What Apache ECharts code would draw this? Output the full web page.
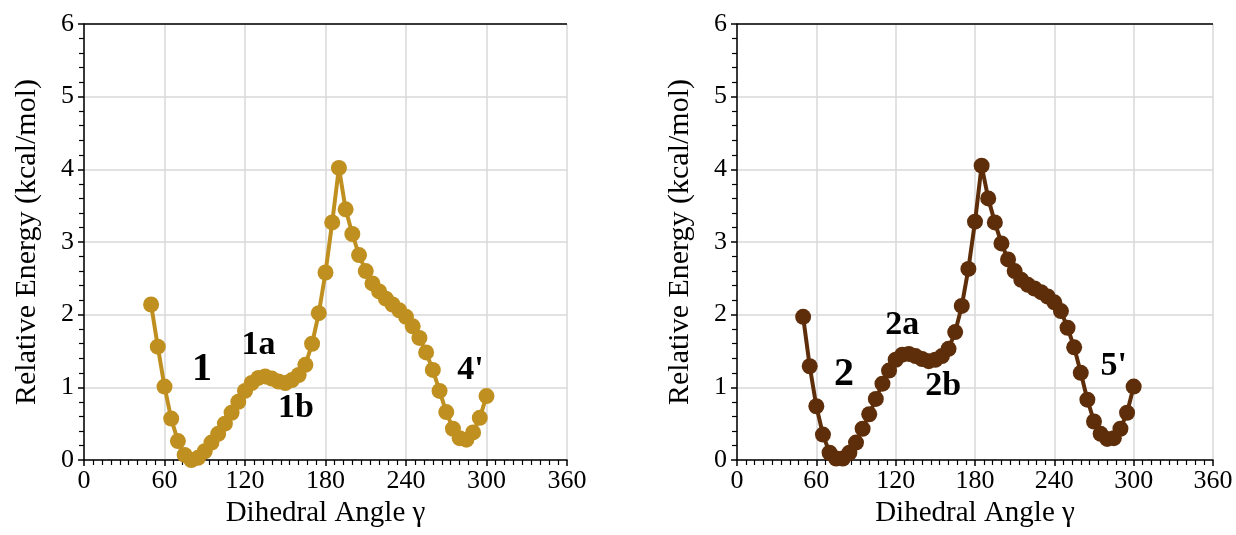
<!DOCTYPE html>
<html>
<head>
<meta charset="utf-8">
<script src="https://cdn.jsdelivr.net/npm/echarts@6/dist/echarts.min.js"></script>
<style>
  html, body { margin: 0; padding: 0; background: #fff; }
  #chart { width: 1236px; height: 535px; }
</style>
</head>
<body>
<div id="chart"></div>
<script>
// dihedral angle scan, degrees
const angles = [50, 55, 60, 65, 70, 75, 80, 85, 90, 95, 100, 105, 110, 115, 120, 125, 130, 135, 140, 145,
  150, 155, 160, 165, 170, 175, 180, 185, 190, 195, 200, 205, 210, 215, 220, 225, 230, 235, 240, 245,
  250, 255, 260, 265, 270, 275, 280, 285, 290, 295, 300];

// relative energy (kcal/mol), left panel
const energyLeft = [2.14, 1.56, 1.01, 0.57, 0.26, 0.07, 0.0, 0.03, 0.12, 0.24, 0.36, 0.5, 0.65, 0.8, 0.95, 1.06,
  1.13, 1.15, 1.12, 1.08, 1.06, 1.1, 1.17, 1.31, 1.6, 2.02, 2.58, 3.27, 4.02, 3.45, 3.11, 2.82, 2.6, 2.43,
  2.32, 2.22, 2.14, 2.06, 1.97, 1.84, 1.68, 1.48, 1.24, 0.95, 0.66, 0.43, 0.3, 0.28, 0.38, 0.58, 0.88];

// relative energy (kcal/mol), right panel
const energyRight = [1.97, 1.29, 0.74, 0.35, 0.1, 0.02, 0.02, 0.1, 0.24, 0.43, 0.63, 0.84, 1.05, 1.23, 1.38, 1.45,
  1.46, 1.43, 1.39, 1.36, 1.38, 1.43, 1.53, 1.76, 2.12, 2.63, 3.28, 4.05, 3.6, 3.27, 2.98, 2.76, 2.6, 2.48,
  2.41, 2.36, 2.31, 2.25, 2.17, 2.05, 1.82, 1.55, 1.2, 0.83, 0.53, 0.36, 0.29, 0.3, 0.43, 0.65, 1.01];

// conformer labels: [angle, energy, text, fontSize]
const labelsLeft = [[88, 1.24, '1', 40], [130, 1.58, '1a', 34], [158, 0.71, '1b', 34], [288, 1.23, "4'", 34]];
const labelsRight = [[81, 1.18, '2', 40], [125, 1.86, '2a', 34], [156, 1.01, '2b', 34], [285, 1.29, "5'", 34]];

const xTicks = [0, 60, 120, 180, 240, 300, 360];
const yTicks = [0, 1, 2, 3, 4, 5, 6];

const FONT = '"Liberation Serif", "Times New Roman", serif';
const GOLD = '#BF9020';
const BROWN = '#5E2E0A';

function xAxisFor(idx) {
  return {
    gridIndex: idx,
    type: 'value',
    min: xTicks[0],
    max: xTicks[xTicks.length - 1],
    interval: 60,
    name: 'Dihedral Angle \u03b3',
    nameLocation: 'middle',
    nameGap: 39,
    nameTextStyle: { fontFamily: FONT, fontSize: 29, color: '#000' },
    axisLine: { lineStyle: { color: '#000', width: 1.5 } },
    axisTick: { show: true, length: 6, lineStyle: { color: '#000', width: 1.5 } },
    minorTick: { show: true, splitNumber: 9, length: 5, lineStyle: { color: '#000', width: 1.2 } },
    axisLabel: { fontFamily: FONT, fontSize: 26, color: '#000', margin: 8 },
    splitLine: { show: true, lineStyle: { color: '#d9d9d9', width: 1.5 } }
  };
}

function yAxisFor(idx) {
  return {
    gridIndex: idx,
    type: 'value',
    min: yTicks[0],
    max: yTicks[yTicks.length - 1],
    interval: 1,
    name: 'Relative Energy (kcal/mol)',
    nameLocation: 'middle',
    nameGap: 42,
    nameTextStyle: { fontFamily: FONT, fontSize: 30, color: '#000' },
    axisLine: { show: true, lineStyle: { color: '#000', width: 1.5 } },
    axisTick: { show: true, length: 6, lineStyle: { color: '#000', width: 1.5 } },
    minorTick: { show: true, splitNumber: 5, length: 5, lineStyle: { color: '#000', width: 1.2 } },
    axisLabel: { fontFamily: FONT, fontSize: 26, color: '#000', margin: 10 },
    splitLine: { show: true, lineStyle: { color: '#d9d9d9', width: 1.5 } }
  };
}

function curve(idx, values, color) {
  return {
    type: 'line',
    xAxisIndex: idx,
    yAxisIndex: idx,
    data: angles.map((a, i) => [a, values[i]]),
    symbol: 'circle',
    symbolSize: 16,
    lineStyle: { color: color, width: 4 },
    itemStyle: { color: color },
    markLine: {
      silent: true,
      symbol: 'none',
      label: { show: false },
      lineStyle: { color: '#000', width: 1.5, type: 'solid' },
      data: [{ yAxis: yTicks[yTicks.length - 1] }]
    },
    z: 3
  };
}

function tags(idx, list) {
  return {
    type: 'scatter',
    xAxisIndex: idx,
    yAxisIndex: idx,
    symbolSize: 0,
    itemStyle: { color: 'rgba(0,0,0,0)', opacity: 1 },
    silent: true,
    data: list.map((l) => ({
      value: [l[0], l[1]],
      label: {
        show: true,
        position: 'inside',
        fontFamily: FONT,
        fontWeight: 'bold',
        fontSize: l[3],
        color: '#000',
        opacity: 1,
        formatter: l[2]
      }
    })),
    z: 5
  };
}

const chart = echarts.init(document.getElementById('chart'));
chart.setOption({
  animation: false,
  backgroundColor: '#fff',
  grid: [
    { left: 84, right: 669, top: 24, bottom: 75 },
    { left: 737, right: 23, top: 24, bottom: 75 }
  ],
  xAxis: [xAxisFor(0), xAxisFor(1)],
  yAxis: [yAxisFor(0), yAxisFor(1)],
  series: [
    curve(0, energyLeft, GOLD),
    curve(1, energyRight, BROWN),
    tags(0, labelsLeft),
    tags(1, labelsRight)
  ]
});
</script>
</body>
</html>
